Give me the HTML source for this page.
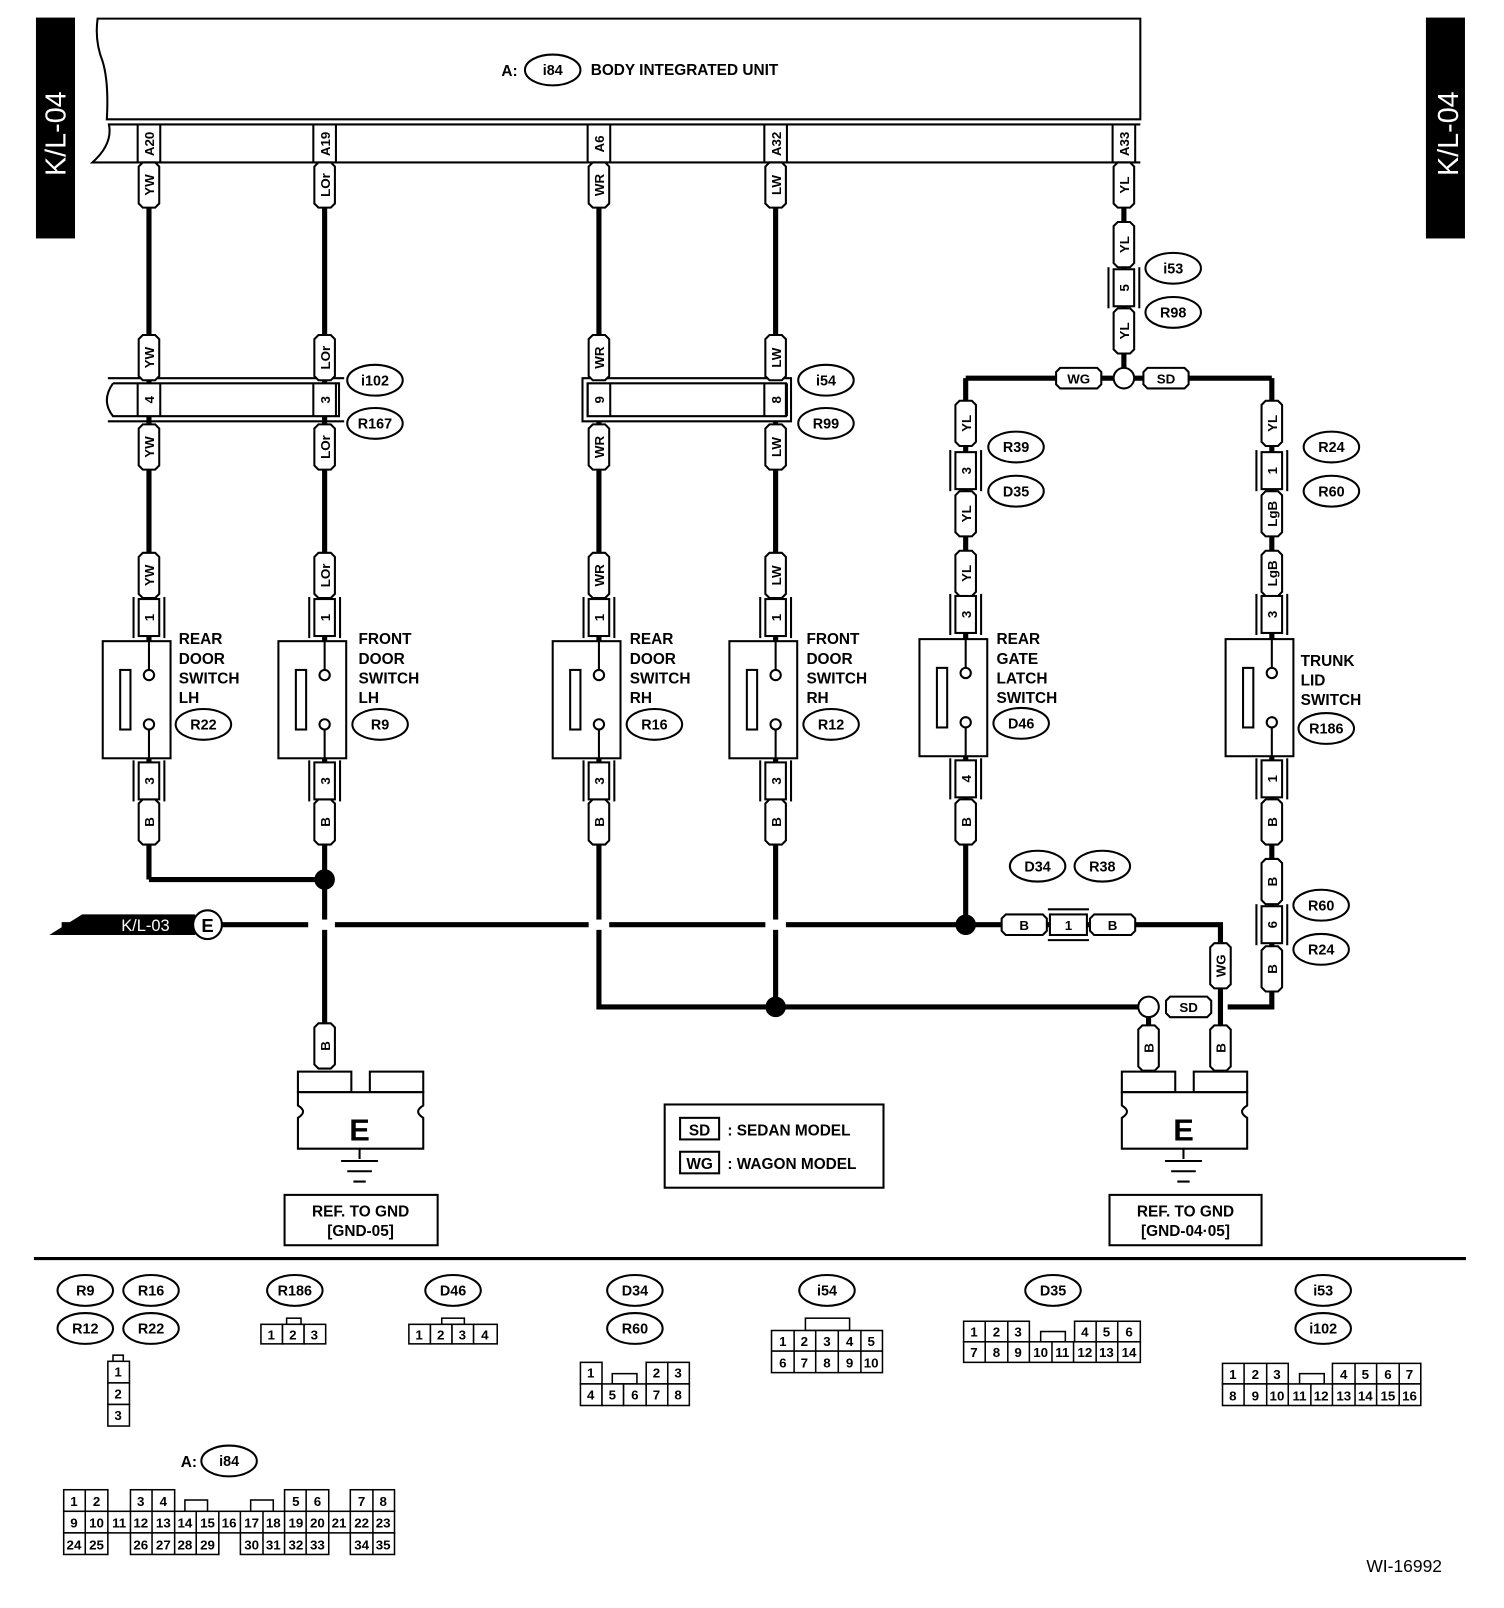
<!DOCTYPE html>
<html><head><meta charset="utf-8"><style>
html,body{margin:0;padding:0;background:#fff}
svg{display:block}
text{font-family:"Liberation Sans",Arial,sans-serif;font-weight:bold;fill:#000}
.w{stroke:#000;stroke-width:5;fill:none}
.t{fill:#fff;stroke:#000;stroke-width:2}
.s{fill:#fff;stroke:#000;stroke-width:2}
.c{fill:#fff;stroke:#000;stroke-width:1.5}
.ct{font-size:13px;font-weight:normal;text-anchor:middle}
</style></head><body>
<svg width="1504" height="1608" viewBox="0 0 1464 1565" xmlns="http://www.w3.org/2000/svg">
<defs>
<polygon id="tg" class="t" points="-10,-18 -6,-22 6,-22 10,-18 10,18 6,22 -6,22 -10,18"/>
<polygon id="th" class="t" points="-18,-10 -22,-6 -22,6 -18,10 18,10 22,6 22,-6 18,-10"/>
<g id="pb"><rect x="-10" y="-18" width="20" height="36" class="s"/><line x1="-15" y1="-20" x2="-15" y2="20" stroke="#000" stroke-width="2"/><line x1="15" y1="-20" x2="15" y2="20" stroke="#000" stroke-width="2"/></g>
<ellipse id="el" rx="27" ry="15" class="s"/>
</defs>

<!-- side tabs -->
<rect x="35" y="17" width="38" height="215" fill="#000"/>
<text transform="translate(64,130) rotate(-90)" font-size="28" text-anchor="middle" style="fill:#fff;font-weight:normal">K/L-04</text>
<rect x="1388" y="17" width="38" height="215" fill="#000"/>
<text transform="translate(1419,130) rotate(-90)" font-size="28" text-anchor="middle" style="fill:#fff;font-weight:normal">K/L-04</text>

<!-- top unit -->
<path d="M1110,18 L95,18 Q92,40 100,60 Q106,80 104,116 L1110,116 Z" class="s"/>
<path d="M1110,121 L106,121 Q110,140 90,158 L1110,158" class="s"/>
<text x="488" y="74" font-size="15">A:</text>
<use href="#el" x="538" y="68"/><text x="538" y="73" font-size="14" text-anchor="middle">i84</text>
<text x="575" y="73" font-size="15">BODY INTEGRATED UNIT</text>
<g stroke="#000" stroke-width="2">
<line x1="134" y1="121" x2="134" y2="158"/><line x1="156" y1="121" x2="156" y2="158"/>
<line x1="305" y1="121" x2="305" y2="158"/><line x1="327" y1="121" x2="327" y2="158"/>
<line x1="572" y1="121" x2="572" y2="158"/><line x1="594" y1="121" x2="594" y2="158"/>
<line x1="744" y1="121" x2="744" y2="158"/><line x1="766" y1="121" x2="766" y2="158"/>
<line x1="1083" y1="121" x2="1083" y2="158"/><line x1="1105" y1="121" x2="1105" y2="158"/>
</g>
<g font-size="13" text-anchor="middle">
<text transform="translate(150,140) rotate(-90)">A20</text>
<text transform="translate(321,140) rotate(-90)">A19</text>
<text transform="translate(588,140) rotate(-90)">A6</text>
<text transform="translate(760,140) rotate(-90)">A32</text>
<text transform="translate(1099,140) rotate(-90)">A33</text>
</g>

<!-- main wires -->
<g class="w">
<path d="M145,158 V856 M145,856 H316 M316,158 V1015"/>
<path d="M583,158 V980 H1118 M755,158 V980"/>
<path d="M1094,158 V368 M940,368 H1238 M940,368 V900 M1238,368 V980 H1195"/>
<path d="M60,900 H1188 V1020 M1118,980 V1020"/>
</g>
<polygon points="48,910 80,890 190,890 190,910" fill="#000"/>
<text x="118" y="906" font-size="16" style="fill:#fff;font-weight:normal">K/L-03</text>
<circle cx="202" cy="900" r="14" class="s"/><text x="202" y="907" font-size="18" text-anchor="middle">E</text>
<rect x="300" y="895" width="26" height="10" fill="#fff"/>
<rect x="573" y="895" width="20" height="10" fill="#fff"/>
<rect x="745" y="895" width="20" height="10" fill="#fff"/>
<circle cx="316" cy="856" r="10" fill="#000"/>
<circle cx="755" cy="980" r="10" fill="#000"/>
<circle cx="940" cy="900" r="10" fill="#000"/>
<circle cx="1094" cy="368" r="10" class="s"/>
<circle cx="1118" cy="980" r="10" class="s"/>

<!-- inline connectors bands -->
<path d="M105,368 H335 M105,410 H335" stroke="#000" stroke-width="2"/>
<path d="M110,373 H330 V405 H110 Q98,390 110,373" class="s"/>
<path d="M567,368 H770 V410 H567 Z" class="s"/>
<path d="M572,373 H765 V405 H572 Z" class="s"/>
<g stroke="#000" stroke-width="2">
<line x1="134" y1="373" x2="134" y2="405"/><line x1="156" y1="373" x2="156" y2="405"/>
<line x1="305" y1="373" x2="305" y2="405"/><line x1="327" y1="373" x2="327" y2="405"/>
<line x1="572" y1="373" x2="572" y2="405"/><line x1="594" y1="373" x2="594" y2="405"/>
<line x1="744" y1="373" x2="744" y2="405"/><line x1="766" y1="373" x2="766" y2="405"/>
</g>
<g font-size="13" text-anchor="middle">
<text transform="translate(150,389) rotate(-90)">4</text>
<text transform="translate(321,389) rotate(-90)">3</text>
<text transform="translate(588,389) rotate(-90)">9</text>
<text transform="translate(760,389) rotate(-90)">8</text>
</g>

<!-- wire tags vertical -->
<g font-size="13" text-anchor="middle">
<g transform="translate(145,180)"><use href="#tg"/><text transform="rotate(-90)" y="5">YW</text></g>
<g transform="translate(145,348)"><use href="#tg"/><text transform="rotate(-90)" y="5">YW</text></g>
<g transform="translate(145,435)"><use href="#tg"/><text transform="rotate(-90)" y="5">YW</text></g>
<g transform="translate(145,560)"><use href="#tg"/><text transform="rotate(-90)" y="5">YW</text></g>
<g transform="translate(316,180)"><use href="#tg"/><text transform="rotate(-90)" y="5">LOr</text></g>
<g transform="translate(316,348)"><use href="#tg"/><text transform="rotate(-90)" y="5">LOr</text></g>
<g transform="translate(316,435)"><use href="#tg"/><text transform="rotate(-90)" y="5">LOr</text></g>
<g transform="translate(316,560)"><use href="#tg"/><text transform="rotate(-90)" y="5">LOr</text></g>
<g transform="translate(583,180)"><use href="#tg"/><text transform="rotate(-90)" y="5">WR</text></g>
<g transform="translate(583,348)"><use href="#tg"/><text transform="rotate(-90)" y="5">WR</text></g>
<g transform="translate(583,435)"><use href="#tg"/><text transform="rotate(-90)" y="5">WR</text></g>
<g transform="translate(583,560)"><use href="#tg"/><text transform="rotate(-90)" y="5">WR</text></g>
<g transform="translate(755,180)"><use href="#tg"/><text transform="rotate(-90)" y="5">LW</text></g>
<g transform="translate(755,348)"><use href="#tg"/><text transform="rotate(-90)" y="5">LW</text></g>
<g transform="translate(755,435)"><use href="#tg"/><text transform="rotate(-90)" y="5">LW</text></g>
<g transform="translate(755,560)"><use href="#tg"/><text transform="rotate(-90)" y="5">LW</text></g>
<g transform="translate(1094,180)"><use href="#tg"/><text transform="rotate(-90)" y="5">YL</text></g>
<g transform="translate(1094,238)"><use href="#tg"/><text transform="rotate(-90)" y="5">YL</text></g>
<g transform="translate(1094,322)"><use href="#tg"/><text transform="rotate(-90)" y="5">YL</text></g>
<g transform="translate(940,412)"><use href="#tg"/><text transform="rotate(-90)" y="5">YL</text></g>
<g transform="translate(940,500)"><use href="#tg"/><text transform="rotate(-90)" y="5">YL</text></g>
<g transform="translate(940,558)"><use href="#tg"/><text transform="rotate(-90)" y="5">YL</text></g>
<g transform="translate(1238,412)"><use href="#tg"/><text transform="rotate(-90)" y="5">YL</text></g>
<g transform="translate(1238,500)"><use href="#tg"/><text transform="rotate(-90)" y="5">LgB</text></g>
<g transform="translate(1238,558)"><use href="#tg"/><text transform="rotate(-90)" y="5">LgB</text></g>
<g transform="translate(145,800)"><use href="#tg"/><text transform="rotate(-90)" y="5">B</text></g>
<g transform="translate(316,800)"><use href="#tg"/><text transform="rotate(-90)" y="5">B</text></g>
<g transform="translate(583,800)"><use href="#tg"/><text transform="rotate(-90)" y="5">B</text></g>
<g transform="translate(755,800)"><use href="#tg"/><text transform="rotate(-90)" y="5">B</text></g>
<g transform="translate(940,800)"><use href="#tg"/><text transform="rotate(-90)" y="5">B</text></g>
<g transform="translate(1238,800)"><use href="#tg"/><text transform="rotate(-90)" y="5">B</text></g>
<g transform="translate(1238,858)"><use href="#tg"/><text transform="rotate(-90)" y="5">B</text></g>
<g transform="translate(1238,943)"><use href="#tg"/><text transform="rotate(-90)" y="5">B</text></g>
<g transform="translate(316,1018)"><use href="#tg"/><text transform="rotate(-90)" y="5">B</text></g>
<g transform="translate(1118,1020)"><use href="#tg"/><text transform="rotate(-90)" y="5">B</text></g>
<g transform="translate(1188,1020)"><use href="#tg"/><text transform="rotate(-90)" y="5">B</text></g>
<g transform="translate(1188,940)"><use href="#tg"/><text transform="rotate(-90)" y="5">WG</text></g>
<!-- horizontal tags -->
<g transform="translate(1050,368)"><use href="#th"/><text y="5">WG</text></g>
<g transform="translate(1135,368)"><use href="#th"/><text y="5">SD</text></g>
<g transform="translate(997,900)"><use href="#th"/><text y="5">B</text></g>
<g transform="translate(1083,900)"><use href="#th"/><text y="5">B</text></g>
<g transform="translate(1157,980)"><use href="#th"/><text y="5">SD</text></g>

<!-- pin boxes -->
<g transform="translate(145,601)"><use href="#pb"/><text transform="rotate(-90)" y="5">1</text></g>
<g transform="translate(316,601)"><use href="#pb"/><text transform="rotate(-90)" y="5">1</text></g>
<g transform="translate(583,601)"><use href="#pb"/><text transform="rotate(-90)" y="5">1</text></g>
<g transform="translate(755,601)"><use href="#pb"/><text transform="rotate(-90)" y="5">1</text></g>
<g transform="translate(940,598)"><use href="#pb"/><text transform="rotate(-90)" y="5">3</text></g>
<g transform="translate(1238,598)"><use href="#pb"/><text transform="rotate(-90)" y="5">3</text></g>
<g transform="translate(145,760)"><use href="#pb"/><text transform="rotate(-90)" y="5">3</text></g>
<g transform="translate(316,760)"><use href="#pb"/><text transform="rotate(-90)" y="5">3</text></g>
<g transform="translate(583,760)"><use href="#pb"/><text transform="rotate(-90)" y="5">3</text></g>
<g transform="translate(755,760)"><use href="#pb"/><text transform="rotate(-90)" y="5">3</text></g>
<g transform="translate(940,758)"><use href="#pb"/><text transform="rotate(-90)" y="5">4</text></g>
<g transform="translate(1238,758)"><use href="#pb"/><text transform="rotate(-90)" y="5">1</text></g>
<g transform="translate(1094,280)"><use href="#pb"/><text transform="rotate(-90)" y="5">5</text></g>
<g transform="translate(940,458)"><use href="#pb"/><text transform="rotate(-90)" y="5">3</text></g>
<g transform="translate(1238,458)"><use href="#pb"/><text transform="rotate(-90)" y="5">1</text></g>
<g transform="translate(1238,900)"><use href="#pb"/><text transform="rotate(-90)" y="5">6</text></g>
<g transform="translate(1040,900) rotate(-90)"><use href="#pb"/><text transform="rotate(90)" x="0" y="0" dy="0"></text></g>
<text x="1040" y="905">1</text>
</g>

<!-- switches -->
<g id="sw">
<rect x="100" y="624" width="66" height="114" class="s"/>
<rect x="117" y="652" width="10" height="58" class="s"/>
<path d="M145,624 V652 M145,710 V738" stroke="#000" stroke-width="2"/>
<circle cx="145" cy="657" r="5" class="s"/><circle cx="145" cy="705" r="5" class="s"/>
</g>
<use href="#sw" x="171"/><use href="#sw" x="438"/><use href="#sw" x="610"/>
<use href="#sw" x="795" y="-2"/><use href="#sw" x="1093" y="-2"/>
<g font-size="15">
<text x="174" y="627">REAR</text><text x="174" y="646">DOOR</text><text x="174" y="665">SWITCH</text><text x="174" y="684">LH</text>
<text x="349" y="627">FRONT</text><text x="349" y="646">DOOR</text><text x="349" y="665">SWITCH</text><text x="349" y="684">LH</text>
<text x="613" y="627">REAR</text><text x="613" y="646">DOOR</text><text x="613" y="665">SWITCH</text><text x="613" y="684">RH</text>
<text x="785" y="627">FRONT</text><text x="785" y="646">DOOR</text><text x="785" y="665">SWITCH</text><text x="785" y="684">RH</text>
<text x="970" y="627">REAR</text><text x="970" y="646">GATE</text><text x="970" y="665">LATCH</text><text x="970" y="684">SWITCH</text>
<text x="1266" y="648">TRUNK</text><text x="1266" y="667">LID</text><text x="1266" y="686">SWITCH</text>
</g>

<!-- ellipse labels -->
<g font-size="14" text-anchor="middle">
<use href="#el" x="198" y="705"/><text x="198" y="710">R22</text>
<use href="#el" x="370" y="705"/><text x="370" y="710">R9</text>
<use href="#el" x="637" y="705"/><text x="637" y="710">R16</text>
<use href="#el" x="809" y="705"/><text x="809" y="710">R12</text>
<use href="#el" x="994" y="704"/><text x="994" y="709">D46</text>
<use href="#el" x="1291" y="709"/><text x="1291" y="714">R186</text>
<use href="#el" x="365" y="370"/><text x="365" y="375">i102</text>
<use href="#el" x="365" y="412"/><text x="365" y="417">R167</text>
<use href="#el" x="804" y="370"/><text x="804" y="375">i54</text>
<use href="#el" x="804" y="412"/><text x="804" y="417">R99</text>
<use href="#el" x="1142" y="261"/><text x="1142" y="266">i53</text>
<use href="#el" x="1142" y="304"/><text x="1142" y="309">R98</text>
<use href="#el" x="989" y="435"/><text x="989" y="440">R39</text>
<use href="#el" x="989" y="478"/><text x="989" y="483">D35</text>
<use href="#el" x="1296" y="435"/><text x="1296" y="440">R24</text>
<use href="#el" x="1296" y="478"/><text x="1296" y="483">R60</text>
<use href="#el" x="1010" y="843"/><text x="1010" y="848">D34</text>
<use href="#el" x="1073" y="843"/><text x="1073" y="848">R38</text>
<use href="#el" x="1286" y="881"/><text x="1286" y="886">R60</text>
<use href="#el" x="1286" y="924"/><text x="1286" y="929">R24</text>
</g>

<!-- grounds -->
<g id="gnd">
<rect x="290" y="1043" width="52" height="20" class="s"/>
<rect x="360" y="1043" width="52" height="20" class="s"/>
<path d="M290,1063 H412 V1076 Q402,1082 412,1088 V1118 H290 V1088 Q300,1082 290,1076 Z" class="s"/>
<text x="350" y="1110" font-size="30" text-anchor="middle">E</text>
<path d="M350,1118 V1128 M332,1130 H368 M338,1140 H362 M344,1150 H356" stroke="#000" stroke-width="2"/>
</g>
<use href="#gnd" x="802"/>
<rect x="277" y="1163" width="149" height="49" class="s"/>
<text x="351" y="1184" font-size="15" text-anchor="middle">REF. TO GND</text>
<text x="351" y="1203" font-size="15" text-anchor="middle">[GND-05]</text>
<rect x="1080" y="1163" width="148" height="49" class="s"/>
<text x="1154" y="1184" font-size="15" text-anchor="middle">REF. TO GND</text>
<text x="1154" y="1203" font-size="15" text-anchor="middle">[GND-04·05]</text>

<!-- legend -->
<rect x="647" y="1075" width="213" height="81" class="s"/>
<rect x="662" y="1088" width="38" height="21" class="s"/><text x="681" y="1105" font-size="15" text-anchor="middle">SD</text>
<text x="708" y="1105" font-size="15">: SEDAN MODEL</text>
<rect x="662" y="1121" width="38" height="21" class="s"/><text x="681" y="1138" font-size="15" text-anchor="middle">WG</text>
<text x="708" y="1138" font-size="15">: WAGON MODEL</text>

<line x1="33" y1="1225" x2="1427" y2="1225" stroke="#000" stroke-width="3"/>

<!-- bottom connector legends -->
<g font-size="14" text-anchor="middle">
<use href="#el" x="83" y="1256"/><text x="83" y="1261">R9</text>
<use href="#el" x="147" y="1256"/><text x="147" y="1261">R16</text>
<use href="#el" x="83" y="1293"/><text x="83" y="1298">R12</text>
<use href="#el" x="147" y="1293"/><text x="147" y="1298">R22</text>
<use href="#el" x="287" y="1256"/><text x="287" y="1261">R186</text>
<use href="#el" x="441" y="1256"/><text x="441" y="1261">D46</text>
<use href="#el" x="618" y="1256"/><text x="618" y="1261">D34</text>
<use href="#el" x="618" y="1293"/><text x="618" y="1298">R60</text>
<use href="#el" x="805" y="1256"/><text x="805" y="1261">i54</text>
<use href="#el" x="1025" y="1256"/><text x="1025" y="1261">D35</text>
<use href="#el" x="1288" y="1256"/><text x="1288" y="1261">i53</text>
<use href="#el" x="1288" y="1293"/><text x="1288" y="1298">i102</text>
<use href="#el" x="223" y="1422"/><text x="223" y="1427">i84</text>
</g>
<text x="176" y="1428" font-size="15">A:</text>

<g class="ct">
<!-- R9 vertical -->
<rect x="110" y="1319" width="10" height="6" class="c"/>
<rect x="105" y="1325" width="21" height="21" class="c"/><text x="115" y="1340">1</text>
<rect x="105" y="1346" width="21" height="21" class="c"/><text x="115" y="1361">2</text>
<rect x="105" y="1367" width="21" height="21" class="c"/><text x="115" y="1382">3</text>
<!-- R186 -->
<rect x="279" y="1283" width="14" height="6" class="c"/>
<rect x="254" y="1289" width="21" height="19" class="c"/><text x="264" y="1304">1</text>
<rect x="275" y="1289" width="21" height="19" class="c"/><text x="285" y="1304">2</text>
<rect x="296" y="1289" width="21" height="19" class="c"/><text x="306" y="1304">3</text>
<!-- D46 -->
<rect x="430" y="1283" width="22" height="6" class="c"/>
<rect x="398" y="1289" width="21" height="19" class="c"/><text x="408" y="1304">1</text>
<rect x="419" y="1289" width="21" height="19" class="c"/><text x="429" y="1304">2</text>
<rect x="440" y="1289" width="21" height="19" class="c"/><text x="450" y="1304">3</text>
<rect x="461" y="1289" width="23" height="19" class="c"/><text x="472" y="1304">4</text>
<!-- D34 -->
<rect x="565" y="1326" width="21" height="21" class="c"/><text x="575" y="1341">1</text>
<rect x="596" y="1337" width="24" height="10" class="c"/>
<rect x="629" y="1326" width="21" height="21" class="c"/><text x="639" y="1341">2</text>
<rect x="650" y="1326" width="21" height="21" class="c"/><text x="660" y="1341">3</text>
<rect x="565" y="1347" width="21" height="21" class="c"/><text x="575" y="1362">4</text>
<rect x="586" y="1347" width="21" height="21" class="c"/><text x="596" y="1362">5</text>
<rect x="607" y="1347" width="22" height="21" class="c"/><text x="618" y="1362">6</text>
<rect x="629" y="1347" width="21" height="21" class="c"/><text x="639" y="1362">7</text>
<rect x="650" y="1347" width="21" height="21" class="c"/><text x="660" y="1362">8</text>
<!-- i54 -->
<rect x="784" y="1283" width="43" height="12" class="c"/>
<rect x="751" y="1295" width="108" height="41" class="c"/>
<path d="M751,1315 H859 M773,1295 V1336 M794,1295 V1336 M816,1295 V1336 M838,1295 V1336" stroke="#000" stroke-width="1.5"/>
<text x="762" y="1310">1</text><text x="783" y="1310">2</text><text x="805" y="1310">3</text><text x="827" y="1310">4</text><text x="848" y="1310">5</text>
<text x="762" y="1331">6</text><text x="783" y="1331">7</text><text x="805" y="1331">8</text><text x="827" y="1331">9</text><text x="848" y="1331">10</text>
<!-- D35 -->
<rect x="938" y="1286" width="64" height="20" class="c"/>
<rect x="1013" y="1296" width="24" height="10" class="c"/>
<rect x="1046" y="1286" width="64" height="20" class="c"/>
<rect x="938" y="1306" width="172" height="20" class="c"/>
<path d="M959,1286 V1326 M981,1286 V1326 M1002,1306 V1326 M1024,1306 V1326 M1045,1306 V1326 M1067,1286 V1326 M1088,1286 V1326" stroke="#000" stroke-width="1.5"/>
<text x="948" y="1301">1</text><text x="970" y="1301">2</text><text x="991" y="1301">3</text><text x="1056" y="1301">4</text><text x="1077" y="1301">5</text><text x="1099" y="1301">6</text>
<text x="948" y="1321">7</text><text x="970" y="1321">8</text><text x="991" y="1321">9</text><text x="1013" y="1321">10</text><text x="1034" y="1321">11</text><text x="1056" y="1321">12</text><text x="1077" y="1321">13</text><text x="1099" y="1321">14</text>
<!-- i53/i102 -->
<rect x="1190" y="1327" width="64" height="20" class="c"/>
<rect x="1265" y="1337" width="24" height="10" class="c"/>
<rect x="1297" y="1327" width="86" height="20" class="c"/>
<rect x="1190" y="1347" width="193" height="21" class="c"/>
<path d="M1211,1327 V1368 M1233,1327 V1368 M1254,1347 V1368 M1276,1347 V1368 M1297,1347 V1368 M1319,1327 V1368 M1340,1327 V1368 M1362,1327 V1368" stroke="#000" stroke-width="1.5"/>
<text x="1200" y="1342">1</text><text x="1222" y="1342">2</text><text x="1243" y="1342">3</text><text x="1308" y="1342">4</text><text x="1329" y="1342">5</text><text x="1351" y="1342">6</text><text x="1372" y="1342">7</text>
<text x="1200" y="1363">8</text><text x="1222" y="1363">9</text><text x="1243" y="1363">10</text><text x="1265" y="1363">11</text><text x="1286" y="1363">12</text><text x="1308" y="1363">13</text><text x="1329" y="1363">14</text><text x="1351" y="1363">15</text><text x="1372" y="1363">16</text>
<!-- i84 -->
<rect x="62" y="1450" width="43" height="21" class="c"/>
<rect x="127" y="1450" width="43" height="21" class="c"/>
<rect x="180" y="1460" width="22" height="11" class="c"/>
<rect x="244" y="1460" width="22" height="11" class="c"/>
<rect x="277" y="1450" width="43" height="21" class="c"/>
<rect x="341" y="1450" width="43" height="21" class="c"/>
<rect x="62" y="1471" width="322" height="21" class="c"/>
<rect x="62" y="1492" width="43" height="21" class="c"/>
<rect x="127" y="1492" width="86" height="21" class="c"/>
<rect x="234" y="1492" width="86" height="21" class="c"/>
<rect x="341" y="1492" width="43" height="21" class="c"/>
<path d="M83,1450 V1513 M105,1471 V1492 M127,1471 V1492 M148,1450 V1513 M170,1471 V1513 M191,1471 V1513 M213,1471 V1492 M234,1471 V1492 M256,1471 V1513 M277,1471 V1513 M298,1450 V1513 M320,1471 V1492 M341,1471 V1492 M363,1450 V1513" stroke="#000" stroke-width="1.5"/>
<text x="72" y="1466">1</text><text x="94" y="1466">2</text><text x="137" y="1466">3</text><text x="159" y="1466">4</text><text x="288" y="1466">5</text><text x="309" y="1466">6</text><text x="352" y="1466">7</text><text x="373" y="1466">8</text>
<text x="72" y="1487">9</text><text x="94" y="1487">10</text><text x="116" y="1487">11</text><text x="137" y="1487">12</text><text x="159" y="1487">13</text><text x="180" y="1487">14</text><text x="202" y="1487">15</text><text x="223" y="1487">16</text><text x="245" y="1487">17</text><text x="266" y="1487">18</text><text x="288" y="1487">19</text><text x="309" y="1487">20</text><text x="330" y="1487">21</text><text x="352" y="1487">22</text><text x="373" y="1487">23</text>
<text x="72" y="1508">24</text><text x="94" y="1508">25</text><text x="137" y="1508">26</text><text x="159" y="1508">27</text><text x="180" y="1508">28</text><text x="202" y="1508">29</text><text x="245" y="1508">30</text><text x="266" y="1508">31</text><text x="288" y="1508">32</text><text x="309" y="1508">33</text><text x="352" y="1508">34</text><text x="373" y="1508">35</text>
</g>

<text x="1330" y="1530" font-size="17" style="font-weight:normal">WI-16992</text>
</svg>
</body></html>
